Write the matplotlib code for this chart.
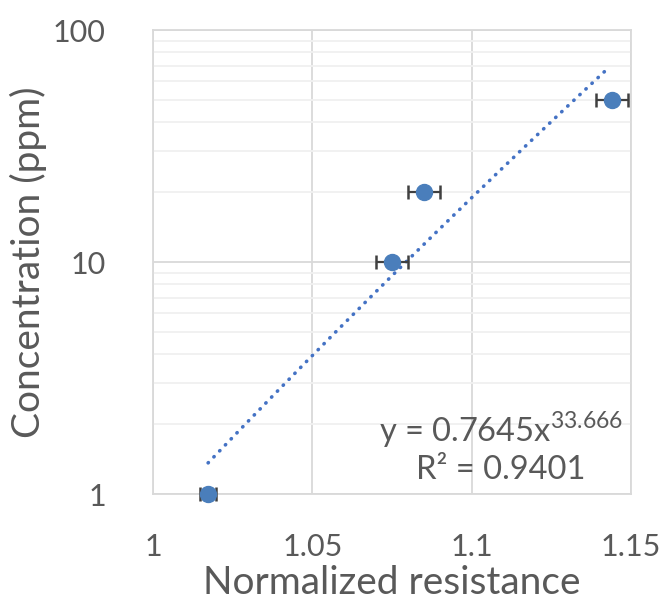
import numpy as np
import matplotlib
matplotlib.use("Agg")
import matplotlib.pyplot as plt
from matplotlib.ticker import FixedLocator, LogLocator, NullFormatter

plt.rcParams['font.family'] = ['Lato', 'DejaVu Sans']

# data
resistance = [1.0173, 1.075, 1.085, 1.144]
concentration = [1, 10, 20, 50]
res_err = [0.0025, 0.005, 0.005, 0.005]
# power trend y = a * x^b
fit_a = 0.7645
fit_b = 33.666
fit_r2 = 0.9401
fit_range = [1.0173, 1.142]
xticks = [1, 1.05, 1.1, 1.15]
yticks = [1, 10, 100]

txt_col = '#595959'
grid_col = '#D9D9D9'
dot_col = '#4A7EBB'

fig = plt.figure(figsize=(6.69, 6.06), dpi=100)
ax = fig.add_axes([153/669, 112/606, 478/669, 464/606])

xs = np.linspace(fit_range[0], fit_range[1], 200)
ax.plot(xs, fit_a * xs**fit_b, color='#4472C4', lw=2.6,
        linestyle=(0, (0.1, 2.2)), dash_capstyle='round', zorder=3)

ax.errorbar(resistance, concentration, xerr=res_err, fmt='o', ms=11.5,
            color=dot_col, ecolor='#404040', elinewidth=1.6, capsize=5,
            capthick=1.8, zorder=4, clip_on=False)

ax.set_yscale('log')
ax.set_xlim(1, 1.15)
ax.set_ylim(1, 100)
ax.xaxis.set_major_locator(FixedLocator(xticks))
ax.set_xticklabels(['1', '1.05', '1.1', '1.15'])
ax.yaxis.set_major_locator(FixedLocator(yticks))
ax.set_yticklabels(['1', '10', '100'])
ax.yaxis.set_minor_locator(LogLocator(base=10, subs=np.arange(2, 10)))
ax.yaxis.set_minor_formatter(NullFormatter())

ax.grid(True, which='major', color=grid_col, lw=1.3, zorder=0)
ax.grid(True, which='minor', axis='y', color='#F0F0F0', lw=1.3, zorder=0)
ax.set_axisbelow(True)
for s in ax.spines.values():
    s.set_color(grid_col)
    s.set_linewidth(1.3)

ax.tick_params(which='both', length=0, labelsize=22, colors=txt_col)
ax.tick_params(axis='y', pad=34)
ax.tick_params(axis='x', pad=28)

ax.set_xlabel('Normalized resistance', fontsize=28, color=txt_col, labelpad=3)
ax.set_ylabel('Concentration (ppm)', fontsize=28, color=txt_col, labelpad=4)

fig.text(501/669, 1 - 430/606, 'y = 0.7645x$^{\\mathregular{33.666}}$',
         ha='center', va='center', fontsize=23.5, color=txt_col)
fig.text(501/669, 1 - 470/606, 'R² = 0.9401',
         ha='center', va='center', fontsize=23.5, color=txt_col)

fig.savefig('out.png', dpi=100)
